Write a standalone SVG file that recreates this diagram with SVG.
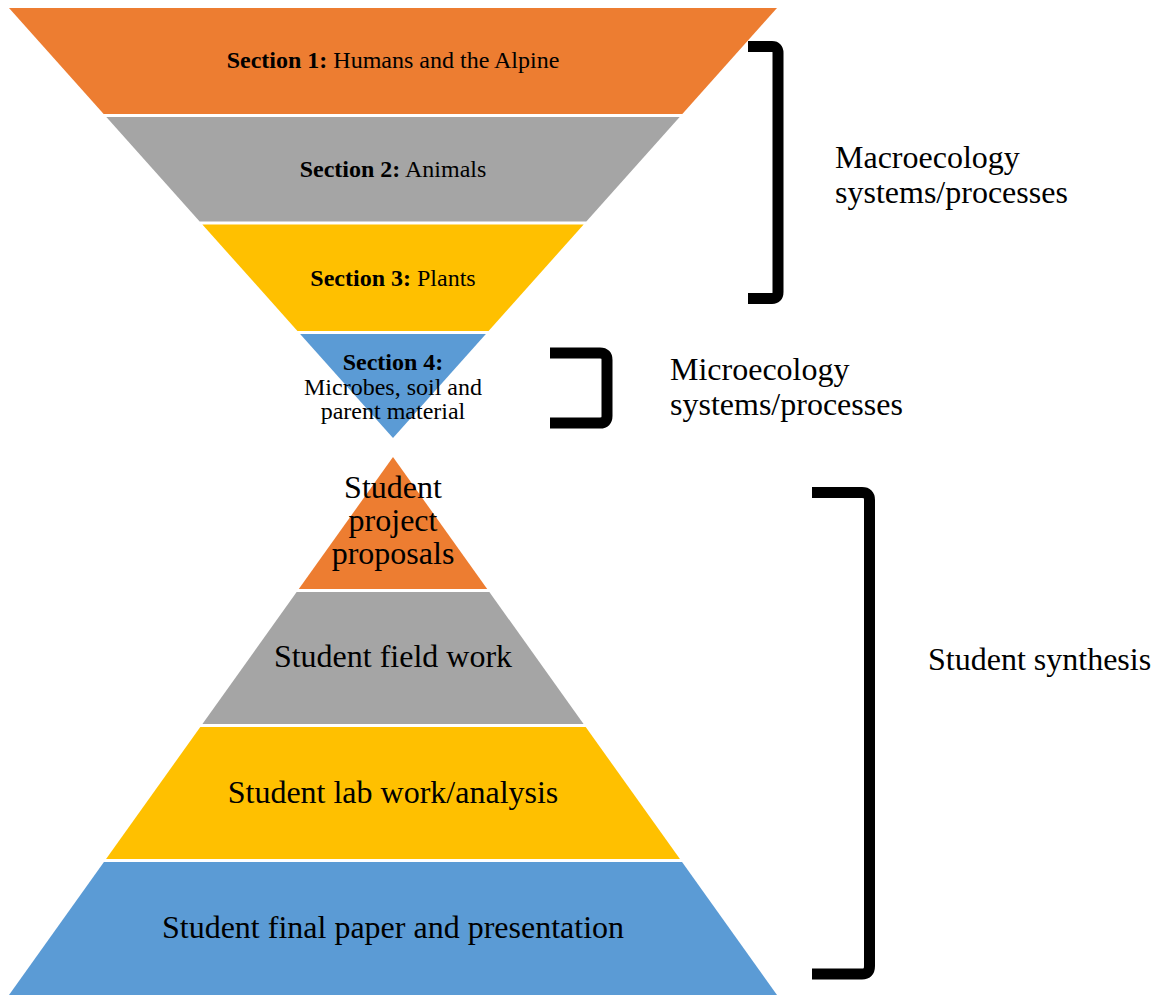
<svg xmlns="http://www.w3.org/2000/svg" width="1155" height="995" viewBox="0 0 1155 995">
<style>
.t{font-family:"Liberation Serif","Times New Roman",serif;fill:#000;}
.s{font-size:24px;}
.l{font-size:32px;}
.b{font-weight:bold;}
.br{fill:none;stroke:#000;stroke-width:11;stroke-linecap:butt;stroke-linejoin:round;}
.o{fill:#ED7D31;}.g{fill:#A5A5A5;}.y{fill:#FFC000;}.bl{fill:#5B9BD5;}
</style>
<rect width="1155" height="995" fill="#fff"/>
<g id="section1"><polygon class="o" points="9,8 777,8 682.34,114 103.66,114"/><text class="t s" x="393" y="68" text-anchor="middle"><tspan class="b">Section 1:</tspan> Humans and the Alpine</text></g>
<g id="section2"><polygon class="g" points="106.34,117 679.66,117 586.34,221.5 199.66,221.5"/><text class="t s" x="393" y="177" text-anchor="middle"><tspan class="b">Section 2:</tspan> Animals</text></g>
<g id="section3"><polygon class="y" points="202.34,224.5 583.66,224.5 488.55,331 297.45,331"/><text class="t s" x="393" y="286" text-anchor="middle"><tspan class="b">Section 3:</tspan> Plants</text></g>
<g id="section4"><polygon class="bl" points="300.12,334 485.88,334 393,438"/><text class="t s" text-anchor="middle"><tspan class="b" x="393" y="370">Section 4:</tspan><tspan x="393" y="394.5">Microbes, soil and</tspan><tspan x="393" y="419">parent material</tspan></text></g>
<g id="proposals"><polygon class="o" points="393,457 487.21,589 298.79,589"/><text class="t l" text-anchor="middle"><tspan x="393" y="497.5">Student</tspan><tspan x="393" y="530.5">project</tspan><tspan x="393" y="563.5">proposals</tspan></text></g>
<g id="fieldwork"><polygon class="g" points="296.64,592 489.36,592 583.57,724 202.43,724"/><text class="t l" x="393" y="667" text-anchor="middle">Student field work</text></g>
<g id="labwork"><polygon class="y" points="200.29,727 585.71,727 679.93,859 106.07,859"/><text class="t l" x="393" y="803" text-anchor="middle">Student lab work/analysis</text></g>
<g id="final"><polygon class="bl" points="103.93,862 682.07,862 777,995 9,995"/><text class="t l" x="393" y="938" text-anchor="middle">Student final paper and presentation</text></g>
<g id="connectors">
<path class="br" d="M748,46.5 H772 Q778,46.5 778,53 V292 Q778,298.5 772,298.5 H748"/>
<path class="br" d="M550,353 H600 Q607,353 607,360 V416 Q607,423 600,423 H550"/>
<path class="br" d="M812,492.5 H862 Q869.5,492.5 869.5,500 V966 Q869.5,974 862,974 H812"/>
</g>
<g id="macro"><text class="t l"><tspan x="835" y="168">Macroecology</tspan><tspan x="835" y="203">systems/processes</tspan></text></g>
<g id="micro"><text class="t l"><tspan x="670" y="380">Microecology</tspan><tspan x="670" y="415">systems/processes</tspan></text></g>
<g id="synthesis"><text class="t l" x="928" y="670">Student synthesis</text></g>
</svg>
